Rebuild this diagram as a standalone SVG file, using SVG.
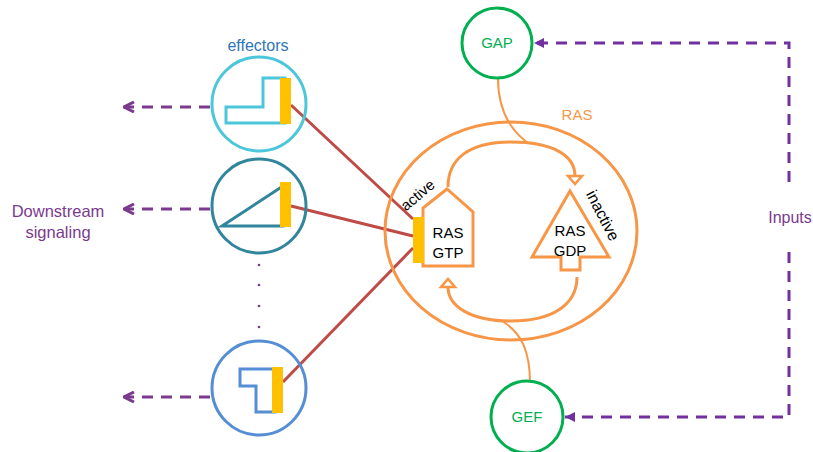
<svg xmlns="http://www.w3.org/2000/svg" width="813" height="452" viewBox="0 0 813 452">
<defs>
<style>
text{font-family:"Liberation Sans","Noto Sans",Arial,sans-serif;}
.lbl{font-size:14px;text-anchor:middle;}
.big{font-size:16px;text-anchor:middle;}
.ras{font-size:15px;fill:#000;text-anchor:middle;}
.orange{fill:none;stroke:#F79646;stroke-width:3;}
.thin{fill:none;stroke:#F79646;stroke-width:2;}
.out{fill:none;stroke:#7B3A8E;stroke-width:3;stroke-dasharray:11 8;}
.inp{fill:none;stroke:#7030A0;stroke-width:3;stroke-dasharray:11 8;}
.red{stroke:#BE4B48;stroke-width:3;}
.bar{fill:#FFC000;}
.green{fill:#fff;stroke:#00B050;stroke-width:3;}
</style>
<marker id="chev" viewBox="0 0 12 12" refX="11" refY="6" markerWidth="12" markerHeight="12" markerUnits="userSpaceOnUse" orient="auto">
<path d="M1,1 L11,6 L1,11" fill="none" stroke="#7B3A8E" stroke-width="3"/>
</marker>
<marker id="tri" viewBox="0 0 10 10" refX="10" refY="5" markerWidth="10" markerHeight="10" markerUnits="userSpaceOnUse" orient="auto">
<path d="M0,0 L10,5 L0,10 Z" fill="#7030A0"/>
</marker>
</defs>
<rect width="813" height="452" fill="#fff"/>

<g id="connectors">
<line class="red" x1="291" y1="105" x2="413" y2="219"/>
<line class="red" x1="291" y1="206" x2="413" y2="236"/>
<line class="red" x1="283" y1="382" x2="413" y2="248"/>
<line class="out" x1="210" y1="107" x2="124" y2="107" marker-end="url(#chev)"/>
<line class="out" x1="210" y1="209" x2="124" y2="209" marker-end="url(#chev)"/>
<line class="out" x1="210" y1="397" x2="124" y2="397" marker-end="url(#chev)"/>
<polyline class="inp" points="789,182 789,43 534,43" marker-end="url(#tri)"/>
<polyline class="inp" points="789,252 789,417 565,417" marker-end="url(#tri)"/>
<path class="thin" d="M498,78 C498,110 510,130 528,143"/>
<path class="thin" d="M530,383 C530,352 522,333 502,321"/>
</g>

<g id="dots" fill="#7B3A8E">
<circle cx="259" cy="265" r="1.3"/>
<circle cx="259" cy="285" r="1.3"/>
<circle cx="259" cy="306" r="1.3"/>
<circle cx="259" cy="327" r="1.3"/>
</g>

<g id="effector1">
<text class="big" x="258" y="51" fill="#2E75B6">effectors</text>
<circle cx="259" cy="104" r="47" fill="none" stroke="#4BC6DA" stroke-width="3"/>
<polygon points="226,107 263,107 263,78 285,78 285,123 226,123" fill="none" stroke="#4BC6DA" stroke-width="3"/>
<rect class="bar" x="280" y="78" width="11" height="46"/>
</g>

<g id="effector2">
<circle cx="259" cy="206" r="47" fill="none" stroke="#31859C" stroke-width="3"/>
<polygon points="222,226 283,186 283,226" fill="none" stroke="#31859C" stroke-width="3"/>
<rect class="bar" x="280" y="182" width="11" height="45"/>
</g>

<g id="effector3">
<circle cx="259" cy="388" r="47" fill="none" stroke="#558ED5" stroke-width="3"/>
<polygon points="240,369 275,369 275,412 256,412 256,386 240,386" fill="none" stroke="#558ED5" stroke-width="3"/>
<rect class="bar" x="272" y="367" width="11" height="46"/>
</g>

<g id="downstream">
<text class="big" x="58" y="217" fill="#7B3A8E" style="font-size:16.5px">Downstream</text>
<text class="big" x="58" y="238" fill="#7B3A8E" style="font-size:16.5px">signaling</text>
</g>

<g id="ras">
<text class="lbl" x="577" y="120" fill="#F79646" style="font-size:15px">RAS</text>
<ellipse class="orange" cx="511" cy="231" rx="126" ry="109"/>
<path class="orange" d="M448,187 C448,158 470,142 511,142 C552,142 575,155 575,176"/>
<polygon points="568,176 582,176 575,184" fill="#fff" stroke="#F79646" stroke-width="2.5"/>
<path class="orange" d="M577,277 C577,305 552,321 511,321 C470,321 448,306 448,287"/>
<polygon points="441,287 455,287 448,279" fill="#fff" stroke="#F79646" stroke-width="2.5"/>
</g>

<g id="rasgtp">
<polygon class="orange" points="423,266 423,208 447,189 473,212 473,266" fill="#fff"/>
<rect class="bar" x="413" y="217" width="11" height="46"/>
<text class="ras" x="448" y="238">RAS</text>
<text class="ras" x="448" y="258">GTP</text>
<text class="big" x="0" y="0" fill="#000" style="font-size:15px" transform="translate(421,199) rotate(-40)">active</text>
</g>

<g id="rasgdp">
<polygon class="orange" points="570,191 609,257 580,257 580,270 561,270 561,257 532,257" fill="#fff"/>
<text class="ras" x="570" y="236">RAS</text>
<text class="ras" x="570" y="256">GDP</text>
<text class="big" x="0" y="0" fill="#000" transform="translate(598,218) rotate(63)">inactive</text>
</g>

<g id="gap">
<circle class="green" cx="497" cy="43" r="35"/>
<text class="lbl" x="497" y="48" fill="#00B050" style="font-size:15px">GAP</text>
</g>

<g id="gef">
<circle class="green" cx="527" cy="417" r="36"/>
<text class="lbl" x="527" y="422" fill="#00B050" style="font-size:15px">GEF</text>
</g>

<g id="inputs">
<text class="big" x="790" y="223" fill="#7B3A8E">Inputs</text>
</g>
</svg>
